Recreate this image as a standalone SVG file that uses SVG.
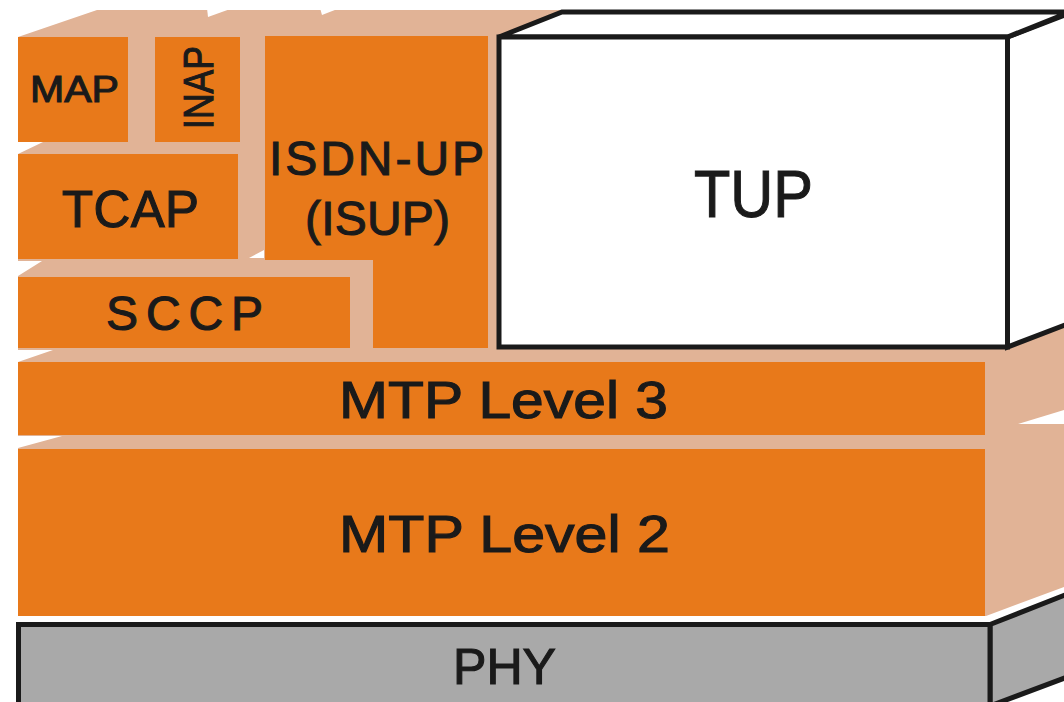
<svg xmlns="http://www.w3.org/2000/svg" width="1064" height="702" viewBox="0 0 1064 702">
  <style>
    .front { fill: #E8791A; }
    .peach { fill: #E1B396; }
    .gap { fill: #FFFFFF; }
    .box { fill: #FFFFFF; stroke: #1A1A1A; stroke-width: 5; stroke-linejoin: miter; }
    .phy { fill: #A9A9A9; stroke: #1A1A1A; stroke-width: 5; stroke-linejoin: miter; }
    .lbl { font-family: "Liberation Sans", Arial, sans-serif; fill: #1A1A1A; stroke: #1A1A1A; stroke-width: 1.1; text-anchor: middle; }
  </style>
  <rect width="1064" height="702" fill="#FFFFFF"/>

  <g id="block-body">
    <polygon class="peach" points="18,37 97,10 1064,10 1064,587 986,616 18,616 18,448 62,436 18,436 18,362 53,350 18,350 18,276 42,261 18,261 18,154 43,142 18,142"/>
    <polygon class="gap" points="207,8 208,17 233,8"/>
    <polygon class="gap" points="320,8 322,15 340,8"/>
    <polygon class="gap" points="249,258 264,250 264,258"/>
    <polygon class="gap" points="1018,424 1064,410 1064,424"/>
  </g>

  <g id="map">
    <rect class="front" x="18" y="37" width="110" height="105"/>
    <text class="lbl" x="74.5" y="102" font-size="37" textLength="89" lengthAdjust="spacingAndGlyphs">MAP</text>
  </g>

  <g id="inap">
    <rect class="front" x="155" y="37" width="85" height="105"/>
    <text class="lbl" transform="translate(213,87.5) rotate(-90)" font-size="42" textLength="83" lengthAdjust="spacingAndGlyphs">INAP</text>
  </g>

  <g id="tcap">
    <rect class="front" x="18" y="154" width="220" height="105"/>
    <text class="lbl" x="130.5" y="227" font-size="51" textLength="137" lengthAdjust="spacing">TCAP</text>
  </g>

  <g id="isdn-up">
    <polygon class="front" points="265,36 488,36 488,348 373,348 373,260 265,260"/>
    <text class="lbl" x="376.5" y="175" font-size="48" textLength="215" lengthAdjust="spacing">ISDN-UP</text>
    <text class="lbl" x="377.5" y="235" font-size="48" textLength="145" lengthAdjust="spacing">(ISUP)</text>
  </g>

  <g id="sccp">
    <rect class="front" x="18" y="277" width="332" height="71"/>
    <text class="lbl" x="184.5" y="330" font-size="48" textLength="157" lengthAdjust="spacing">SCCP</text>
  </g>

  <g id="mtp3">
    <rect class="front" x="18" y="362" width="967" height="73"/>
    <text class="lbl" x="503.5" y="418" font-size="52" textLength="329" lengthAdjust="spacingAndGlyphs">MTP Level 3</text>
  </g>

  <g id="mtp2">
    <rect class="front" x="18" y="449" width="967" height="167"/>
    <text class="lbl" x="504.5" y="552" font-size="52" textLength="331" lengthAdjust="spacingAndGlyphs">MTP Level 2</text>
  </g>

  <g id="tup">
    <polygon class="box" points="1007.5,37 1070,13 1070,323 1007.5,347"/>
    <polygon class="box" points="499,37 562,12 1070,12 1007.5,37"/>
    <rect class="box" x="499" y="37" width="508.5" height="310"/>
    <text class="lbl" x="753.5" y="217" font-size="66" textLength="119" lengthAdjust="spacingAndGlyphs">TUP</text>
  </g>

  <g id="phy">
    <polygon class="phy" points="990,624.5 1070,593 1070,676 990,706"/>
    <rect class="phy" x="18.5" y="624.5" width="971.5" height="90"/>
    <text class="lbl" x="504.5" y="684" font-size="50" textLength="103" lengthAdjust="spacingAndGlyphs">PHY</text>
  </g>
</svg>
